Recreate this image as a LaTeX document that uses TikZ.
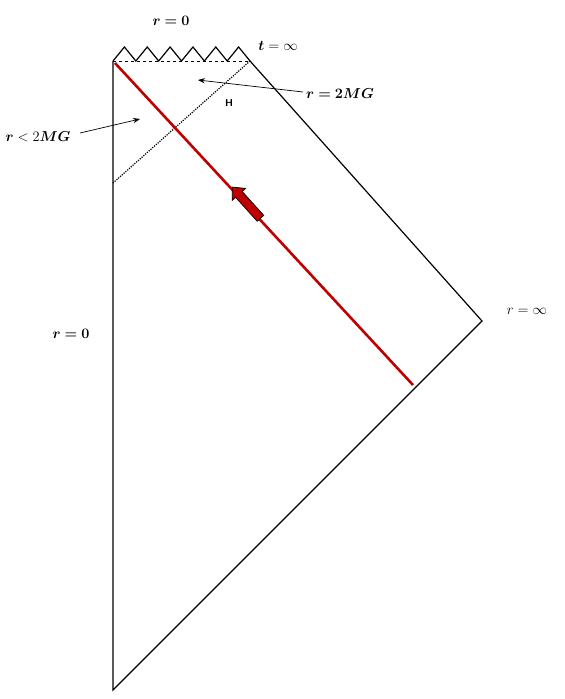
\documentclass[tikz,border=0pt]{standalone}
\usepackage{xcolor}
\usepackage{bm}
\usetikzlibrary{positioning,arrows.meta,shapes.arrows}
\definecolor{rojo}{HTML}{C00000}

\begin{document}
\begin{tikzpicture}[
  x=1pt, y=-1pt,
  font=\Large,
  borde/.style={draw, line width=1.2pt},
  etiq/.style={inner sep=1pt},
  flecha/.style={-{Stealth[length=2.4mm]}, line width=0.7pt}
]
  \useasboundingbox (0,0) rectangle (565,699);
  % vertices of the diagram
  \coordinate (A) at (113,61);
  \coordinate (B) at (250,61);
  \coordinate (C) at (482,321);
  \coordinate (D) at (113,690);
  % edges and singularity
  \draw[borde] (B) -- (C) -- (D) -- (A);
  \draw[borde] (A) \foreach \i in {1,...,6} { -- ++(11.42,-14) -- ++(11.42,14) };
  \draw[dashed, line width=0.5pt] (A) -- (B);
  % horizon
  \coordinate (Hb) at (113,183);
  \draw[dotted, line width=1.2pt, dash pattern=on 1.2pt off 1.2pt] (B) -- (Hb);
  % infalling path
  \coordinate (P0) at (115,63);
  \coordinate (P1) at (413,385);
  \draw[rojo, line width=2.6pt] (P0) -- (P1);
  \node[single arrow, draw=black, fill=rojo, minimum height=42pt, minimum width=18pt,
        single arrow head extend=4.5pt, single arrow tip angle=85, inner sep=4pt,
        line width=0.7pt, rotate=132] (empuje) at (248,204.5) {};
  % labels
  \node[etiq] (rtop) at (171,21) {$\bm{r=0}$};
  \node[etiq] (tinf) at (278,46) {$\bm{t}=\infty$};
  \node[etiq] (r2mg) at (340,94) {$\bm{r=2MG}$};
  \node[etiq, font=\sffamily\bfseries\normalsize] (hlab) at (229,103) {H};
  \node[etiq] (rmenor) at (38,137) {$\bm{r}<2\bm{MG}$};
  \node[etiq] (rleft) at (71,334) {$\bm{r=0}$};
  \node[etiq] (rinf) at (527,311) {$r=\infty$};
  % pointers
  \coordinate (ph) at (198,80);
  \coordinate (pin) at (140,119);
  \coordinate (q1) at (303,92);
  \coordinate (q2) at (80,133);
  \draw[flecha] (q1) -- (ph);
  \draw[flecha] (q2) -- (pin);
\end{tikzpicture}
\end{document}
